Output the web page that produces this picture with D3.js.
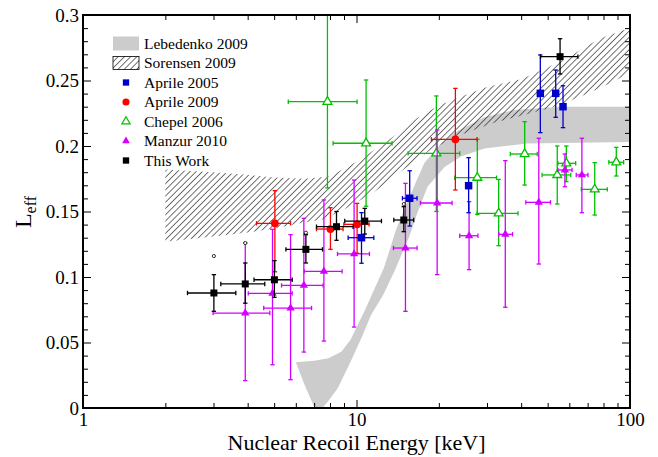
<!DOCTYPE html>
<html><head><meta charset="utf-8">
<script src="https://cdn.jsdelivr.net/npm/d3@7"></script>
<style>
body{margin:0;background:#fff;}
svg{display:block;font-family:"Liberation Serif","Times New Roman",serif;}
</style>
</head><body>
<svg id="c" width="658" height="457"></svg>
<script>
// ---------------- data ----------------
const xTickValues = [1, 10, 100];
const xTickLabels = ["1", "10", "100"];
const yTickValues = [0, 0.05, 0.1, 0.15, 0.2, 0.25, 0.3];
const yTickLabels = ["0", "0.05", "0.1", "0.15", "0.2", "0.25", "0.3"];
const legendLabels = ["Lebedenko 2009", "Sorensen 2009", "Aprile 2005", "Aprile 2009", "Chepel 2006", "Manzur 2010", "This Work"];

// Lebedenko 2009 band (upper and lower edges)
const lebUpE = [6.0, 7.0, 7.9, 8.8, 9.5, 10.7, 12.6, 14.0, 16.3, 17.7, 20, 22.7, 29.3, 37.8, 55.7, 100];
const lebUpL = [0.035, 0.036, 0.038, 0.043, 0.052, 0.074, 0.107, 0.137, 0.170, 0.187, 0.200, 0.210, 0.222, 0.2275, 0.230, 0.230];
const lebLoE = [6.0, 6.45, 7.0, 7.5, 7.86, 8.54, 9.55, 10.5, 11.3, 12.5, 13.8, 15.6, 16.7, 18.2, 21, 24.1, 29.3, 42, 100];
const lebLoL = [0.035, 0.018, 0.001, 0.0, 0.005, 0.015, 0.036, 0.055, 0.071, 0.086, 0.105, 0.131, 0.149, 0.169, 0.184, 0.192, 0.198, 0.202, 0.203];

// Sorensen 2009 band
const sorUpE = [2, 3, 4, 5, 6.5, 8, 10, 12, 14, 16, 20, 25, 30, 40, 50, 60, 70, 80, 100];
const sorUpL = [0.182, 0.180, 0.178, 0.176, 0.175, 0.177, 0.188, 0.199, 0.209, 0.219, 0.231, 0.239, 0.245, 0.251, 0.260, 0.268, 0.277, 0.283, 0.290];
const sorLoE = [2, 3, 4, 5, 6.2, 7.6, 9.5, 11.8, 14.4, 19, 25, 32, 40, 55, 70, 85, 100];
const sorLoL = [0.127, 0.131, 0.134, 0.137, 0.141, 0.144, 0.154, 0.166, 0.180, 0.198, 0.210, 0.218, 0.223, 0.231, 0.240, 0.248, 0.256];

// Aprile 2005
const a5E   = [10.43, 15.65, 25.7, 47.0, 53.5, 56.9];
const a5L   = [0.130, 0.1601, 0.1697, 0.2402, 0.2402, 0.230];
const a5Elo = [9.32, 14.72, 25.7, 47.0, 53.5, 56.9];
const a5Ehi = [11.57, 16.65, 25.7, 47.0, 53.5, 56.9];
const a5Llo = [0.1105, 0.1389, 0.1491, 0.2102, 0.2219, 0.214];
const a5Lhi = [0.1491, 0.1811, 0.1911, 0.2695, 0.258, 0.246];

// Aprile 2009
const a9E   = [5.03, 8.03, 10.05, 22.99];
const a9L   = [0.141, 0.1366, 0.1402, 0.2051];
const a9Elo = [4.31, 7.14, 8.99, 18.79];
const a9Ehi = [5.74, 8.93, 11.12, 27.6];
const a9Llo = [0.104, 0.1211, 0.1181, 0.1664];
const a9Lhi = [0.1659, 0.1529, 0.1562, 0.244];

// Chepel 2006
const chE   = [7.83, 10.84, 19.59, 27.65, 33.1, 41.2, 54.2, 58.5, 74.3, 89.1];
const chL   = [0.2338, 0.2021, 0.1944, 0.1758, 0.1486, 0.1939, 0.1779, 0.1868, 0.1669, 0.1876];
const chElo = [5.63, 8.21, 15.44, 22.87, 27.6, 36.5, 47.7, 54.5, 66.4, 83.7];
const chEhi = [10.05, 13.49, 23.85, 32.5, 38.95, 45.8, 60.7, 63.3, 82.6, 94.8];
const chLlo = [0.168, 0.154, 0.150, 0.1478, 0.1239, 0.1702, 0.1557, 0.1728, 0.1473, 0.1771];
const chLhi = [0.32, 0.2504, 0.2382, 0.2051, 0.1745, 0.2186, 0.200, 0.200, 0.1873, 0.199];

// Manzur 2010
const mzE   = [3.92, 4.93, 5.74, 6.42, 7.6, 9.80, 15.1, 19.72, 25.8, 35.0, 46.4, 57.8, 66.7];
const mzL   = [0.0725, 0.0875, 0.0763, 0.0936, 0.1043, 0.1176, 0.1221, 0.1565, 0.1315, 0.1326, 0.157, 0.1817, 0.1779];
const mzElo = [2.99, 4.02, 4.58, 5.32, 6.44, 8.52, 13.65, 17.13, 23.85, 33.1, 41.6, 54.5, 63.6];
const mzEhi = [4.82, 5.82, 6.85, 7.55, 8.86, 11.15, 16.65, 22.36, 27.8, 37.2, 51.2, 61.4, 70.2];
const mzLlo = [0.0209, 0.033, 0.0216, 0.0427, 0.0511, 0.0618, 0.0738, 0.1018, 0.1056, 0.0769, 0.1099, 0.1689, 0.1491];
const mzLhi = [0.126, 0.1364, 0.1323, 0.1448, 0.1588, 0.174, 0.1715, 0.2122, 0.1575, 0.1888, 0.2059, 0.1939, 0.2059];

// This Work
const twE   = [3.01, 3.92, 5.01, 6.53, 8.45, 10.72, 14.89, 55.5];
const twL   = [0.0878, 0.0947, 0.0979, 0.1211, 0.1384, 0.1427, 0.1435, 0.2682];
const twElo = [2.41, 3.19, 4.22, 5.52, 7.14, 9.06, 13.69, 47.1];
const twEhi = [3.62, 4.62, 5.82, 7.51, 9.72, 12.34, 16.19, 64.5];
const twLlo = [0.0738, 0.080, 0.0845, 0.1107, 0.128, 0.1328, 0.1346, 0.255];
const twLhi = [0.1018, 0.1107, 0.1125, 0.1323, 0.150, 0.1524, 0.1537, 0.2819];
// small systematic upper marks
const twSysE = [3.01, 3.92, 6.53, 14.89];
const twSysL = [0.116, 0.1259, 0.1338, 0.1557];

// ---------------- drawing ----------------
const svg = d3.select("#c");
const P = {l: 83, r: 630, t: 15, b: 408};
const x = d3.scaleLog().domain([1, 100]).range([P.l, P.r]);
const y = d3.scaleLinear().domain([0, 0.3]).range([P.b, P.t]);

const defs = svg.append("defs");
defs.append("clipPath").attr("id", "clip").append("rect")
  .attr("x", P.l).attr("y", P.t).attr("width", P.r - P.l).attr("height", P.b - P.t);
const pat = defs.append("pattern").attr("id", "hatch").attr("patternUnits", "userSpaceOnUse")
  .attr("width", 4.4).attr("height", 4.4).attr("patternTransform", "rotate(45)");
pat.append("line").attr("x1", 0).attr("y1", 0).attr("x2", 0).attr("y2", 4.4)
  .attr("stroke", "#000").attr("stroke-width", 1.1);

const plot = svg.append("g").attr("clip-path", "url(#clip)");

const poly = d3.line().x(d => x(d[0])).y(d => y(d[1]));
function band(upE, upL, loE, loL) {
  const pts = upE.map((e, i) => [e, upL[i]]);
  const lo = loE.map((e, i) => [e, loL[i]]).reverse();
  return poly(pts.concat(lo)) + "Z";
}
plot.append("path").attr("d", band(lebUpE, lebUpL, lebLoE, lebLoL)).attr("fill", "#cccccc");
plot.append("path").attr("d", band(sorUpE, sorUpL, sorLoE, sorLoL)).attr("fill", "url(#hatch)");

function series(E, L, Elo, Ehi, Llo, Lhi, color, sym, size, open) {
  const g = plot.append("g");
  const cap = 2.2;
  E.forEach((e, i) => {
    const cx = x(e), cy = y(L[i]);
    const eg = g.append("g").attr("stroke", color).attr("stroke-width", 1.3).attr("fill", "none");
    if (Elo[i] !== Ehi[i]) {
      eg.append("line").attr("x1", x(Elo[i])).attr("x2", x(Ehi[i])).attr("y1", cy).attr("y2", cy);
      eg.append("line").attr("x1", x(Elo[i])).attr("x2", x(Elo[i])).attr("y1", cy - cap).attr("y2", cy + cap);
      eg.append("line").attr("x1", x(Ehi[i])).attr("x2", x(Ehi[i])).attr("y1", cy - cap).attr("y2", cy + cap);
    }
    eg.append("line").attr("x1", cx).attr("x2", cx).attr("y1", y(Llo[i])).attr("y2", y(Lhi[i]));
    eg.append("line").attr("x1", cx - cap).attr("x2", cx + cap).attr("y1", y(Llo[i])).attr("y2", y(Llo[i]));
    eg.append("line").attr("x1", cx - cap).attr("x2", cx + cap).attr("y1", y(Lhi[i])).attr("y2", y(Lhi[i]));
  });
  g.selectAll("path.m").data(E).join("path").attr("class", "m")
    .attr("d", d3.symbol().type(sym).size(size))
    .attr("transform", (e, i) => `translate(${x(e)},${y(L[i])})`)
    .attr("fill", open ? "#fff" : color)
    .attr("stroke", color).attr("stroke-width", open ? 1.3 : 0);
}

const cBlue = "#0000cc", cRed = "#ff0000", cGreen = "#00c000", cMag = "#d400ff", cBlack = "#000000";
series(chE, chL, chElo, chEhi, chLlo, chLhi, cGreen, d3.symbolTriangle, 34, true);
series(mzE, mzL, mzElo, mzEhi, mzLlo, mzLhi, cMag, d3.symbolTriangle, 30, false);
series(a9E, a9L, a9Elo, a9Ehi, a9Llo, a9Lhi, cRed, d3.symbolCircle, 48, false);
series(a5E, a5L, a5Elo, a5Ehi, a5Llo, a5Lhi, cBlue, d3.symbolSquare, 56, false);
series(twE, twL, twElo, twEhi, twLlo, twLhi, cBlack, d3.symbolSquare, 49, false);
plot.selectAll("circle.sys").data(twSysE).join("circle").attr("class", "sys")
  .attr("cx", d => x(d)).attr("cy", (d, i) => y(twSysL[i])).attr("r", 1.6)
  .attr("fill", "#fff").attr("stroke", "#000").attr("stroke-width", 0.8);

// ---------------- axes ----------------
const fontSize = 19;
function clean(g, keepText) {
  g.select(".domain").remove();
  g.selectAll("line").attr("stroke", "#000").attr("stroke-width", 1);
  if (!keepText) g.selectAll("text").remove();
  else g.selectAll("text").attr("font-size", fontSize).attr("fill", "#000")
        .attr("font-family", "'Liberation Serif','Times New Roman',serif");
}
const xMinor = x.ticks().filter(v => !xTickValues.includes(v));
const yMinor = y.ticks(30).filter(v => !yTickValues.some(t => Math.abs(t - v) < 1e-9));

svg.append("g").attr("transform", `translate(0,${P.b})`)
  .call(d3.axisBottom(x).tickValues(xTickValues).tickFormat((d, i) => xTickLabels[i]).tickSize(-8).tickPadding(5))
  .call(g => clean(g, true));
svg.append("g").attr("transform", `translate(0,${P.b})`)
  .call(d3.axisBottom(x).tickValues(xMinor).tickSize(-5)).call(g => clean(g, false));
svg.append("g").attr("transform", `translate(0,${P.t})`)
  .call(d3.axisTop(x).tickValues(xTickValues).tickSize(-8)).call(g => clean(g, false));
svg.append("g").attr("transform", `translate(0,${P.t})`)
  .call(d3.axisTop(x).tickValues(xMinor).tickSize(-5)).call(g => clean(g, false));

svg.append("g").attr("transform", `translate(${P.l},0)`)
  .call(d3.axisLeft(y).tickValues(yTickValues).tickFormat((d, i) => yTickLabels[i]).tickSize(-8).tickPadding(4))
  .call(g => clean(g, true));
svg.append("g").attr("transform", `translate(${P.l},0)`)
  .call(d3.axisLeft(y).tickValues(yMinor).tickSize(-5)).call(g => clean(g, false));
svg.append("g").attr("transform", `translate(${P.r},0)`)
  .call(d3.axisRight(y).tickValues(yTickValues).tickSize(-8)).call(g => clean(g, false));
svg.append("g").attr("transform", `translate(${P.r},0)`)
  .call(d3.axisRight(y).tickValues(yMinor).tickSize(-5)).call(g => clean(g, false));

// frame
svg.append("rect").attr("x", P.l).attr("y", P.t).attr("width", P.r - P.l).attr("height", P.b - P.t)
  .attr("fill", "none").attr("stroke", "#000").attr("stroke-width", 2);

// axis titles
svg.append("text").attr("x", (P.l + P.r) / 2 + 0).attr("y", 450).attr("text-anchor", "middle")
  .attr("font-size", 22).text("Nuclear Recoil Energy [keV]");
const yl = svg.append("text").attr("transform", "translate(31,212) rotate(-90)").attr("text-anchor", "middle");
yl.append("tspan").attr("font-size", 24).text("L");
yl.append("tspan").attr("font-size", 16).attr("dy", 5).text("eff");

// ---------------- legend ----------------
const lg = svg.append("g");
const lx = 126, ly0 = 43.5, lstep = 19.5;
lg.append("rect").attr("x", lx - 13).attr("y", ly0 - 7).attr("width", 26).attr("height", 14).attr("fill", "#cccccc");
lg.append("rect").attr("x", lx - 13).attr("y", ly0 + lstep - 6.5).attr("width", 26).attr("height", 13)
  .attr("fill", "url(#hatch)").attr("stroke", "#000").attr("stroke-width", 0.8);
const legSyms = [null, null,
  {t: d3.symbolSquare, s: 40, c: cBlue, o: false},
  {t: d3.symbolCircle, s: 40, c: cRed, o: false},
  {t: d3.symbolTriangle, s: 30, c: cGreen, o: true},
  {t: d3.symbolTriangle, s: 26, c: cMag, o: false},
  {t: d3.symbolSquare, s: 40, c: cBlack, o: false}];
legSyms.forEach((s, i) => {
  if (!s) return;
  lg.append("path").attr("d", d3.symbol().type(s.t).size(s.s))
    .attr("transform", `translate(${lx},${ly0 + i * lstep})`)
    .attr("fill", s.o ? "#fff" : s.c).attr("stroke", s.c).attr("stroke-width", s.o ? 1.2 : 0);
});
lg.selectAll("text").data(legendLabels).join("text")
  .attr("x", 144).attr("y", (d, i) => ly0 + i * lstep + 5.2)
  .attr("font-size", 15.5).text(d => d);
</script>
</body></html>
